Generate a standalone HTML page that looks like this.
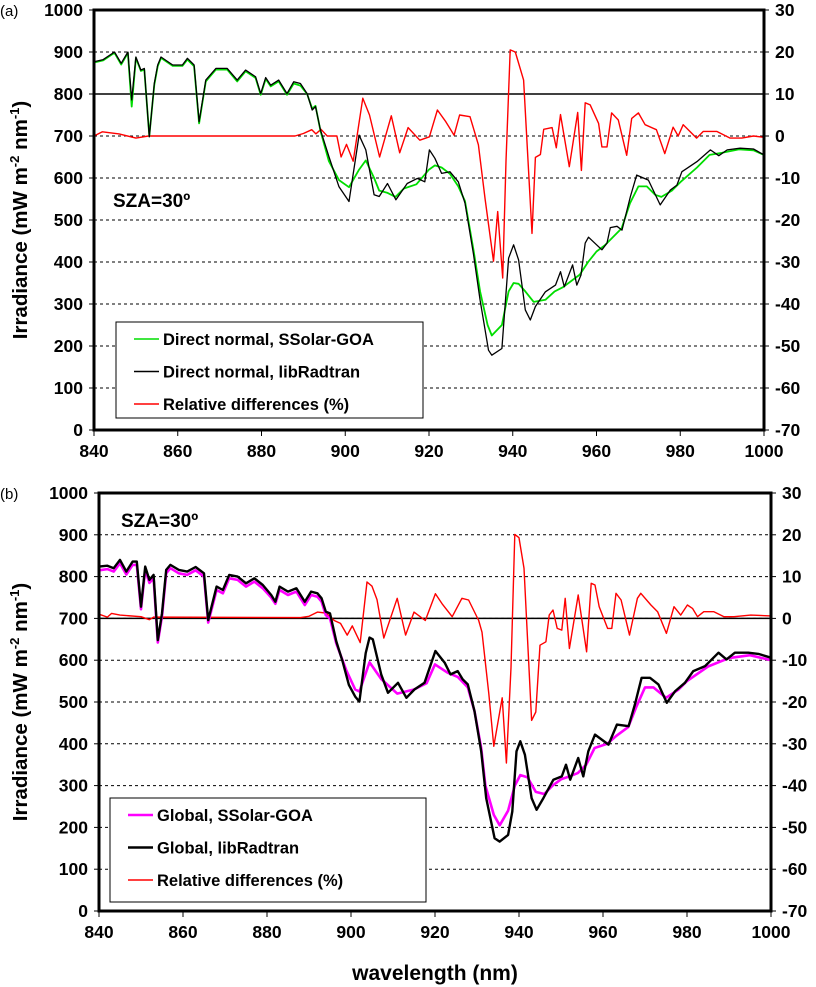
<!DOCTYPE html>
<html><head><meta charset="utf-8">
<style>
body{margin:0;background:#fff;}
svg{display:block;font-family:"Liberation Sans",Arial,sans-serif;}
</style></head>
<body>
<svg id="c" width="816" height="987" viewBox="0 0 816 987"></svg>
<script>
// ---- Panel (a) data ----
const aBlackW=[840,842.2,844.9,846.5,848.1,849,850,851.2,852,853.2,854.4,855.2,856,858.8,861.1,862.3,863.9,865.1,866.7,869.1,871.8,874.2,876.2,878.6,879.8,881,882.2,884.1,886.1,887.7,889.3,890.9,892.1,892.9,894.1,896.1,898.5,900.9,903.3,904.9,906.9,908.1,910.1,912.1,914.8,917.2,919,920.1,921.4,923,925,927,928.6,930.6,932.2,934.2,935,937.4,939,940.2,941.4,943,944.2,945.4,947.8,950.2,951.4,952.3,954.3,955.3,956.3,957.3,958.1,961.3,962.5,963.3,964.9,966.1,968.1,969.6,972.4,975.2,977.6,979.2,980.4,981.6,984,987.2,989.2,991.2,994.3,997.5,1000];
const aBlackV=[877,882,900,873,900,786,888,857,861,698,825,869,888,869,869,885,869,734,833,861,861,833,857,841,801,839,821,833,801,829,825,801,762,770,714,651,579,544,702,667,560,556,587,548,587,599,591,667,647,611,615,591,540,420,309,190,178,194,409,441,405,286,262,294,329,345,377,341,393,345,369,445,459,429,445,482,485,476,556,607,595,536,571,583,615,623,639,667,653,667,671,669,655];
const aGreenW=[840,842.2,844.9,846.5,848.1,849,850,851.2,852,853.2,854.4,855.2,856,858.8,861.1,862.3,863.9,865.1,866.7,869.1,871.8,874.2,876.2,878.6,879.8,881,882.2,884.1,886.1,887.7,889.3,890.9,892.1,892.9,894.1,896.1,898.5,900.9,903.3,904.9,906.9,908.1,910,912,914,917,920,921.4,923,925,927,928.6,930.6,932.2,934,935,937.4,939,940.2,941.4,943,945,947.8,950,952,954,956,958,960,962,964,966,968,970,972,974,975.5,978,980,984,987,990,994,997.5,1000];
const aGreenV=[875,880,898,870,898,770,886,855,858,700,822,866,886,867,867,882,866,730,830,858,858,830,854,838,798,836,818,830,798,825,820,800,765,772,712,640,595,578,620,642,600,570,565,555,575,585,620,630,625,610,580,545,430,330,250,225,250,330,350,348,330,305,310,330,340,355,370,400,425,440,460,480,540,580,580,560,555,570,590,625,655,660,668,666,655];
const aRedW=[840,842,846,850,853,888,890,892,893,894.2,895.7,898,899,900.3,901.9,904.2,905.8,908.2,911,913,915,917.8,920.1,922,924,926,927.3,929.8,931.8,933.4,935.4,936.4,937.6,938.4,939.4,940.6,942.6,944.6,945.4,946.6,947.4,949.4,950.4,951.4,953.5,955.5,956.4,957.3,958.5,960.5,961.3,962.5,963.6,965.2,967.2,968.4,970,971.6,974.3,976.3,978.3,979.5,980.7,981.5,983.9,985.5,988.7,991.9,994.7,997.5,1000];
const aRedV=[0,1,0.5,-0.5,0,0,0.6,1.5,0.5,1.6,0,0,-5,-2,-6,9,5,-5,4.8,-4,2,-1,-0.2,6.2,3.4,0.2,5,4.6,-2.1,-15,-29.8,-18,-33.8,-6,20.5,20,13.3,-23.2,-5.1,-4.4,1.6,2,-2.8,5.1,-7.3,5.6,-8.2,7.9,7.4,3,-2.6,-2.6,5.5,3.8,-4.6,4.2,5.5,2.7,1.5,-4.2,2.1,0,2.7,1.9,-0.5,1.1,1.1,-0.5,-0.5,0,-0.3,0];

// ---- Panel (b) data ----
const bBlackW=[840,842,843.5,845,846.5,848,849,850,851,852,853,854,855,856,857,859,861,863,865,866,868,869.5,871,873,875,877,879,881,882,883,885,887,889,890.5,892,893,894,895,896.5,898,899.5,901,902,903.5,904.4,905.2,907.2,908.8,911.2,913.2,915.1,917.5,920.1,922.3,923.7,925.4,926.6,927.8,929.4,931,932.2,934.2,935.4,937.4,938.4,939.4,940.3,941.4,943,944.2,945.8,948.2,950.2,951.2,952.2,954.1,955.3,956.5,958.1,961.3,963.3,966.1,967.6,969.2,971.2,973.2,975.2,977.2,979.5,981.5,984.3,987.5,989.4,991.4,994.6,997,1000];
const bBlackV=[824,826,820,840,812,836,836,728,824,792,804,648,712,816,828,816,812,823,808,696,776,768,804,800,784,796,780,756,740,776,764,772,740,764,760,748,716,712,645,597,541,513,501,617,654,650,566,522,546,510,530,546,622,594,566,574,554,542,478,382,270,174,166,182,238,382,406,374,270,242,270,314,322,350,314,366,322,382,422,398,446,442,494,558,558,542,498,526,546,574,586,618,602,618,618,615,606];
const bMagW=[840,842,843.5,845,846.5,848,849,850,851,852,853,854,855,856,857,859,861,863,865,866,868,869.5,871,873,875,877,879,881,882,883,885,887,889,890.5,892,893,894,895,896.5,898.9,901,902,904.4,907.2,911,915,918,920,923,925.4,927.8,929.4,931,932,934,935.4,937.4,939,940.3,942,944,946,948,950,952,954,956,958,961,963.3,966,968,970,972,975,978,980,985,990,995,1000];
const bMagV=[815,818,812,832,805,828,828,722,816,785,796,642,705,808,820,808,804,815,800,690,768,760,796,792,776,788,772,750,735,768,756,764,732,756,752,740,708,700,640,575,530,525,595,555,520,530,545,590,570,560,535,478,390,300,230,205,240,300,325,320,285,280,300,315,322,330,350,390,400,420,440,490,535,535,510,530,550,585,605,612,600];
const bRedW=[840,842,843,845,850,852,853,888,890,892,893.9,895,896,897.5,899.1,900.3,902.2,903.8,905,906.2,907.8,911,913,915,917.7,920.1,921.7,924.1,926.4,928,930.4,931.2,932.8,934,936,937,938.1,939,940,941.2,943,944,945,946.4,947.2,948.1,949.1,950.2,951,952,954.1,956.1,957.2,958.1,959.1,961.1,962.1,963.1,964.3,966.3,968.2,969,971.4,973,975.1,976.9,978.5,980.1,981.3,982.5,984,986.4,988.8,991.2,995.2,1000];
const bRedV=[1,0.3,1.2,0.8,0.4,-0.3,0.3,0.2,0.5,1.5,1.3,0.5,-0.5,-1.2,-4,-1.8,-5.8,8.7,7.7,4.5,-4.7,4.8,-4,1.5,-0.5,5.9,3.5,0.4,4.8,4.4,-0.5,-3.3,-18,-30.6,-19,-34.6,-11.8,20.1,19.3,12,-24.4,-22.4,-6.4,-5.6,0.8,2,-2.4,-2.8,4.8,-7.2,5.6,-8,8.4,8,2.8,-2.4,-2.4,6,4.4,-4,4.8,6,3.2,1.6,-3.6,2.8,0.8,3.2,2.4,0.4,1.6,1.6,0.4,0.4,0.8,0.6];

const xTicks=[840,860,880,900,920,940,960,980,1000];
const yTicks=[0,100,200,300,400,500,600,700,800,900,1000];
const rTicks=[-70,-60,-50,-40,-30,-20,-10,0,10,20,30];

const NS='http://www.w3.org/2000/svg';
const svg=document.getElementById('c');
function mk(tag,attrs,parent){const e=document.createElementNS(NS,tag);for(const k in attrs)e.setAttribute(k,attrs[k]);(parent||svg).appendChild(e);return e;}

function panel(P){
  const g=mk('g',{});
  
  
  const X=w=>P.x0+(w-840)/160*(P.x1-P.x0);
  const Y=v=>P.y1-(v/1000)*(P.y1-P.y0);
  const R=r=>Y(700+10*r);
  yTicks.forEach(v=>{
    if(v===0||v===1000)return;
    const l=mk('line',{x1:P.x0,x2:P.x1,y1:Y(v),y2:Y(v),stroke:'#000','stroke-width':1,'stroke-dasharray':'3,3'},g);
    
    
  });
  const ref=mk('line',{x1:P.x0,x2:P.x1,y1:Y(P.solid),y2:Y(P.solid),stroke:'#000','stroke-width':1.5},g);
  
  
  yTicks.forEach(v=>{
    mk('line',{x1:P.x0-5,x2:P.x0,y1:Y(v),y2:Y(v),stroke:'#000','stroke-width':1},g);
    const t=mk('text',{x:P.x0-11,y:Y(v)+6,'text-anchor':'end','font-size':17.5,'font-weight':'bold'},g);
    t.textContent=v;
    
    
  });
  rTicks.forEach(r=>{
    mk('line',{x1:P.x1,x2:P.x1+5,y1:R(r),y2:R(r),stroke:'#000','stroke-width':1},g);
    const t=mk('text',{x:P.x1+11,y:R(r)+6,'text-anchor':'start','font-size':17.5,'font-weight':'bold'},g);
    t.textContent=r;
    
    
  });
  xTicks.forEach(w=>{
    mk('line',{x1:X(w),x2:X(w),y1:P.y1,y2:P.y1+6,stroke:'#000','stroke-width':1},g);
    const t=mk('text',{x:X(w),y:P.y1+27,'text-anchor':'middle','font-size':17.5,'font-weight':'bold'},g);
    t.textContent=w;
    
    
  });
  function line(W,V,fn,color,width,name){
    const d=W.map((w,i)=>(i?'L':'M')+X(w).toFixed(1)+','+fn(V[i]).toFixed(1)).join(' ');
    const p=mk('path',{d:d,fill:'none',stroke:color,'stroke-width':width,'stroke-linejoin':'round'},g);
    
    
    return p;
  }
  P.series.forEach(s=>line(s.W,s.V,s.rel?R:Y,s.color,s.width,s.name));
  const fr=mk('rect',{x:P.x0,y:P.y0,width:P.x1-P.x0,height:P.y1-P.y0,fill:'none',stroke:'#000','stroke-width':3},g);
  
  
  const lg=mk('g',{},g);
  
  
  mk('rect',{x:P.lx,y:P.ly,width:P.lw,height:P.lh,fill:'#fff',stroke:'#000','stroke-width':1},lg);
  P.legend.forEach((e,i)=>{
    const yy=P.ly+17+i*32.5;
    mk('line',{x1:P.lx+18,x2:P.lx+43,y1:yy,y2:yy,stroke:e.color,'stroke-width':e.width},lg);
    const t=mk('text',{x:P.lx+47,y:yy+6,'font-size':16.5,'font-weight':'bold'},lg);
    t.textContent=e.label;
    
    
  });
  const s=mk('text',{x:P.sx,y:P.sy,'font-size':19,'font-weight':'bold'},g);
  s.textContent='SZA=30º';
  
  
  const pl=mk('text',{x:0,y:P.y0+6,'font-size':15},g);
  pl.textContent=P.tag;
  
  
  const yt=mk('text',{transform:`translate(27,${(P.y0+P.y1)/2}) rotate(-90)`,'text-anchor':'middle','font-size':20.5,'font-weight':'bold'},g);
  yt.innerHTML='Irradiance (mW m<tspan font-size="13" dy="-8">-2</tspan><tspan dy="8"> nm</tspan><tspan font-size="13" dy="-8">-1</tspan><tspan dy="8">)</tspan>';
  
  
}

panel({name:'panel-a',tag:'(a)',x0:94,x1:764,y0:10,y1:430,solid:800,
  lx:116,ly:322,lw:307,lh:96,sx:113,sy:207,
  series:[
    {W:aRedW,V:aRedV,rel:true,color:'#ff0000',width:1.4,name:'relative-difference-line-a'},
    {W:aGreenW,V:aGreenV,color:'#00dd00',width:1.8,name:'ssolar-direct-line'},
    {W:aBlackW,V:aBlackV,color:'#000',width:1.3,name:'libradtran-direct-line'}],
  legend:[{label:'Direct normal, SSolar-GOA',color:'#00dd00',width:1.6},{label:'Direct normal, libRadtran',color:'#000',width:1.5},{label:'Relative differences (%)',color:'#ff0000',width:1.5}]});
panel({name:'panel-b',tag:'(b)',x0:99,x1:771,y0:493,y1:911,solid:700,
  lx:110,ly:798,lw:316,lh:104,sx:121,sy:527,
  series:[
    {W:bRedW,V:bRedV,rel:true,color:'#ff0000',width:1.4,name:'relative-difference-line-b'},
    {W:bMagW,V:bMagV,color:'#ff00ff',width:2.6,name:'ssolar-global-line'},
    {W:bBlackW,V:bBlackV,color:'#000',width:2.4,name:'libradtran-global-line'}],
  legend:[{label:'Global, SSolar-GOA',color:'#ff00ff',width:2.6},{label:'Global, libRadtran',color:'#000',width:2.6},{label:'Relative differences (%)',color:'#ff0000',width:1.5}]});

const xt=mk('text',{x:435,y:980,'text-anchor':'middle','font-size':21,'font-weight':'bold'});
xt.textContent='wavelength (nm)';


</script>
</body></html>
